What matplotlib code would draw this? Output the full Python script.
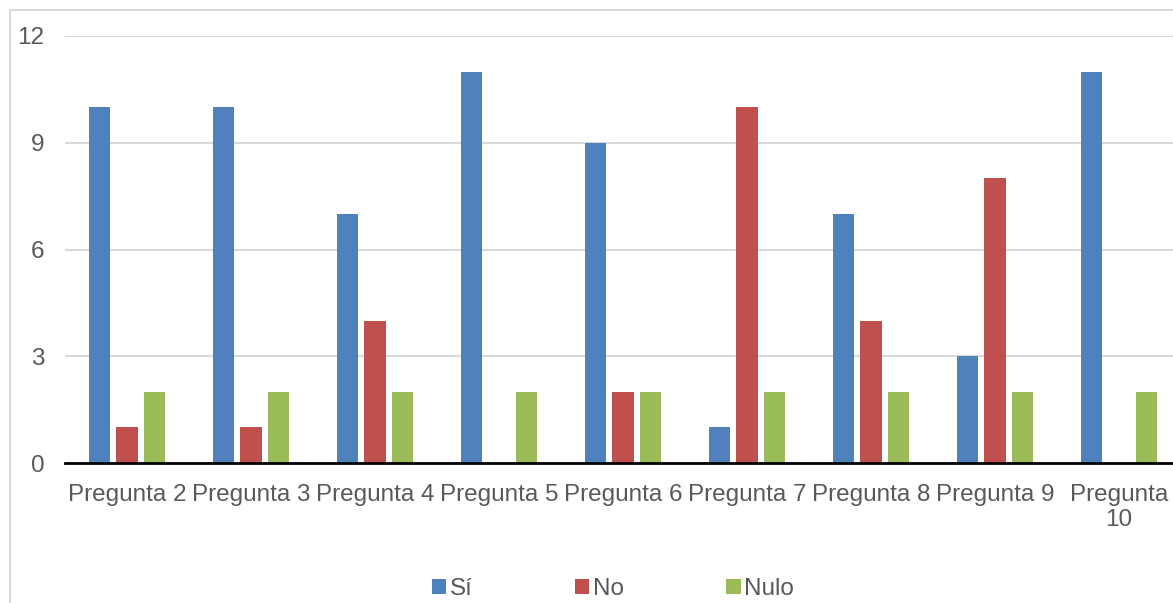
import matplotlib
matplotlib.use("Agg")
import matplotlib.pyplot as plt
from matplotlib.patches import Patch, Rectangle
import numpy as np

categories = ["Pregunta 2", "Pregunta 3", "Pregunta 4", "Pregunta 5", "Pregunta 6",
              "Pregunta 7", "Pregunta 8", "Pregunta 9", "Pregunta\n10"]
si = [10, 10, 7, 11, 9, 1, 7, 3, 11]
no = [1, 1, 4, 0, 2, 10, 4, 8, 0]
nulo = [2, 2, 2, 2, 2, 2, 2, 2, 2]
series_names = ["Sí", "No", "Nulo"]
colors = ["#4F81BD", "#C0504D", "#9BBB59"]
yticks = [0, 3, 6, 9, 12]

plt.rcParams['font.family'] = ['Liberation Sans', 'DejaVu Sans']
W, H = 1173, 603
fig = plt.figure(figsize=(W / 100, H / 100), dpi=100)

# outer chart border
fig.patches.append(Rectangle((10 / W, -0.1), 1.2, 1 - 10 / H + 0.1, transform=fig.transFigure,
                             fill=False, edgecolor="#d9d9d9", linewidth=1.5, zorder=0))

ax = fig.add_axes([65 / W, 1 - 463 / H, (1181 - 65) / W, (463 - 36) / H])
x = np.arange(len(categories))
off = 0.222
w = 0.17
for i, (vals, c) in enumerate(zip([si, no, nulo], colors)):
    ax.bar(x + (i - 1) * off, vals, width=w, color=c, zorder=3)

ax.set_xlim(-0.5, len(categories) - 0.5)
ax.set_ylim(0, 12)
ax.set_yticks(yticks)
ax.set_xticks(x)
ax.set_xticklabels(categories, linespacing=1.2)
ax.tick_params(axis='both', length=0, labelsize=17.5, labelcolor="#595959")
ax.tick_params(axis='y', pad=15)
ax.tick_params(axis='x', pad=15)
ax.grid(axis='y', color="#d9d9d9", linewidth=1.5, zorder=0)
for s in ["top", "right", "left"]:
    ax.spines[s].set_visible(False)
ax.spines["bottom"].set_color("black")
ax.spines["bottom"].set_linewidth(2)
ax.spines["bottom"].set_zorder(4)
ax.patch.set_alpha(0)

handles = [Patch(facecolor=c, edgecolor='none') for c in colors]
leg = fig.legend(handles, series_names, loc="center", bbox_to_anchor=(613 / W, 1 - 589 / H),
                 ncol=3, frameon=False, fontsize=17.5, handlelength=0.6, handleheight=0.6,
                 handletextpad=0.15, columnspacing=4.2, labelcolor="#595959")

fig.savefig("out.png", dpi=100)
